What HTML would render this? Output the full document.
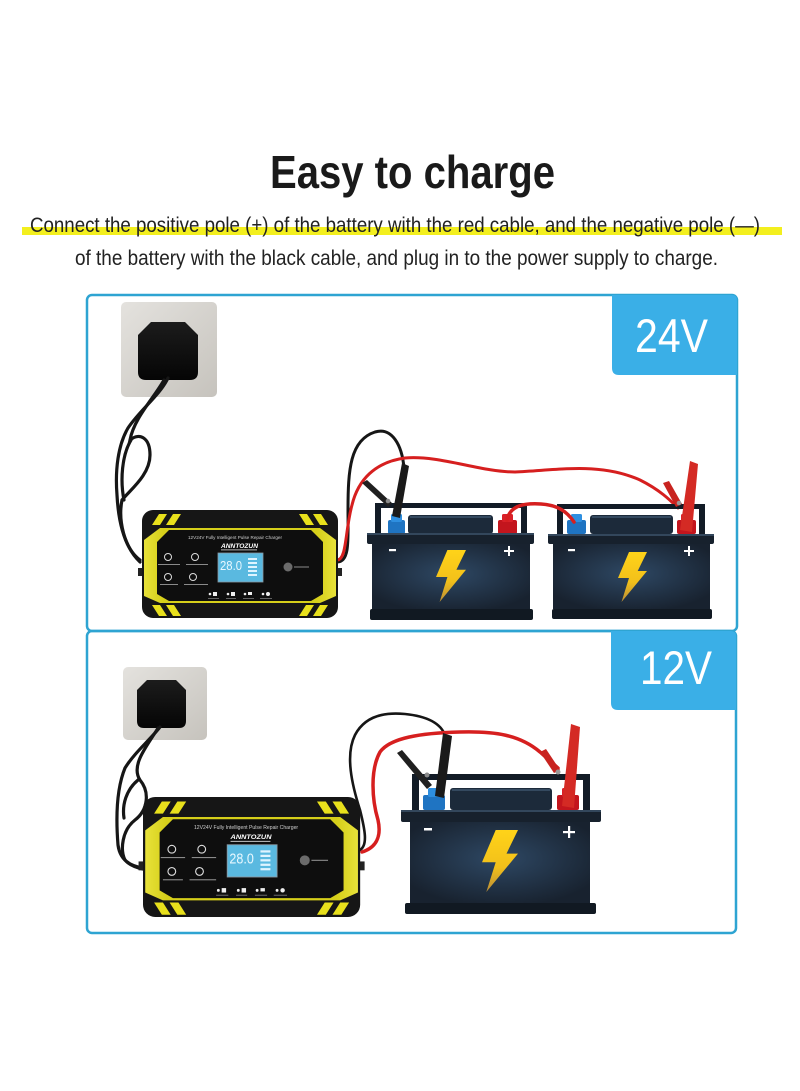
<!DOCTYPE html>
<html><head><meta charset="utf-8"><style>
html,body{margin:0;padding:0;background:#fff;}
svg{display:block;}
</style></head><body>
<svg width="800" height="1091" viewBox="0 0 800 1091" xmlns="http://www.w3.org/2000/svg" font-family="Liberation Sans, sans-serif">
<defs>
<radialGradient id="batg" cx="0.5" cy="0.45" r="0.6">
<stop offset="0" stop-color="#2e4864"/><stop offset="1" stop-color="#18222f"/>
</radialGradient>
<linearGradient id="bolt" x1="0" y1="0" x2="0" y2="1">
<stop offset="0" stop-color="#ffd319"/><stop offset="0.6" stop-color="#f2c01a"/><stop offset="1" stop-color="#b98d38"/>
</linearGradient>
<linearGradient id="plate" x1="0" y1="0" x2="1" y2="1">
<stop offset="0" stop-color="#e4e2de"/><stop offset="1" stop-color="#c6c3bd"/>
</linearGradient>
<linearGradient id="plug" x1="0" y1="0" x2="0" y2="1">
<stop offset="0" stop-color="#1c1c1c"/><stop offset="1" stop-color="#050505"/>
</linearGradient>
<linearGradient id="ylw" x1="0" y1="0" x2="1" y2="0">
<stop offset="0" stop-color="#e8e23a"/><stop offset="0.1" stop-color="#d6cf1a"/><stop offset="0.9" stop-color="#d6cf1a"/><stop offset="1" stop-color="#e8e23a"/>
</linearGradient>
</defs>

<!-- Title -->
<text x="270" y="188" font-size="46" font-weight="bold" fill="#1a1a1a" textLength="285" lengthAdjust="spacingAndGlyphs">Easy to charge</text>
<rect x="22" y="227" width="760" height="8" fill="#f3ef1e"/>
<text x="30" y="232" font-size="21" fill="#222" textLength="730" lengthAdjust="spacingAndGlyphs">Connect the positive pole (+) of the battery with the red cable, and the negative pole (—)</text>
<text x="75" y="265" font-size="21" fill="#222" textLength="643" lengthAdjust="spacingAndGlyphs">of the battery with the black cable, and plug in to the power supply to charge.</text>

<!-- Frames -->
<rect x="87" y="295" width="650" height="336" rx="5" fill="none" stroke="#2ea4d2" stroke-width="2.5"/>
<rect x="87" y="631" width="649" height="302" rx="5" fill="none" stroke="#2ea4d2" stroke-width="2.5"/>
<path d="M612,295 H732 Q737,295 737,300 V375 H619 Q612,375 612,368 Z" fill="#3aafe7"/>
<text x="635" y="352" font-size="47" fill="#fff" textLength="73" lengthAdjust="spacingAndGlyphs">24V</text>
<path d="M611,631 H731 Q736,631 736,636 V710 H618 Q611,710 611,703 Z" fill="#3aafe7"/>
<text x="640" y="684" font-size="47" fill="#fff" textLength="72" lengthAdjust="spacingAndGlyphs">12V</text>

<!-- ===== TOP SCENE ===== -->
<rect x="121" y="302" width="96" height="95" rx="5" fill="url(#plate)"/>
<path d="M151,322 H185 L198,335 V372 Q198,380 190,380 H146 Q138,380 138,372 V335 Z" fill="url(#plug)"/>
<g fill="none" stroke="#161616" stroke-width="3.2" stroke-linecap="round">
<path d="M168,378 C160,395 140,410 128,428 C118,445 115,470 117,495 C118,515 122,545 140,562"/>
<path d="M164,380 C154,398 134,418 130,440 C140,432 150,438 150,455 C150,475 130,490 122,500 C118,520 124,548 140,560"/>
<path d="M131,440 C122,455 120,480 124,500"/>
</g>

<g fill="none" stroke-linecap="round">
<path d="M337,562 C350,562 348,540 348,510 C348,470 350,440 375,432 C392,427 402,445 404,468" stroke="#161616" stroke-width="3"/>
<path d="M337,560 C347,560 345,530 352,505 C358,480 375,462 405,458 C440,455 480,472 515,472 C560,470 600,462 640,480 C660,490 670,500 678,508" stroke="#d61f1f" stroke-width="3"/>
</g>

<!-- battery 1 -->
<g>
<rect x="375" y="503" width="152" height="5" fill="#121b26"/>
<rect x="375" y="503" width="6" height="31" fill="#121b26"/>
<rect x="521" y="503" width="6" height="31" fill="#121b26"/>
<rect x="408" y="515" width="85" height="19" rx="3" fill="#1c2a3a"/>
<rect x="410" y="516" width="81" height="2" fill="#34495f"/>
<rect x="388" y="520" width="17" height="14" rx="2" fill="#1f74c2"/>
<rect x="391" y="514" width="11" height="8" rx="1.5" fill="#2e8fe0"/>
<rect x="498" y="520" width="19" height="14" rx="2" fill="#c3151d"/>
<rect x="502" y="514" width="11" height="8" rx="1.5" fill="#d92028"/>
<rect x="367" y="533" width="167" height="11" rx="2" fill="#17212d"/>
<rect x="367" y="533" width="167" height="2" fill="#33475c"/>
<rect x="372" y="544" width="158" height="66" fill="url(#batg)"/>
<rect x="370" y="609" width="163" height="11" rx="2" fill="#111922"/>
<rect x="389" y="549" width="7" height="2.2" fill="#fff"/>
<rect x="504" y="550" width="10" height="2" fill="#fff"/><rect x="508" y="546" width="2" height="10" fill="#fff"/>
<polygon points="447.4,550 466,550 456.4,569.8 466,569.8 439.6,602 447.4,577 436,577" fill="url(#bolt)"/>
</g>

<!-- battery 2 -->
<g>
<rect x="557" y="504" width="148" height="5" fill="#121b26"/>
<rect x="557" y="504" width="6" height="30" fill="#121b26"/>
<rect x="699" y="504" width="6" height="30" fill="#121b26"/>
<rect x="590" y="515" width="83" height="19" rx="3" fill="#1c2a3a"/>
<rect x="592" y="516" width="79" height="2" fill="#34495f"/>
<rect x="567" y="520" width="19" height="14" rx="2" fill="#1f74c2"/>
<rect x="571" y="514" width="11" height="8" rx="1.5" fill="#2e8fe0"/>
<rect x="677" y="520" width="19" height="14" rx="2" fill="#c3151d"/>
<rect x="681" y="514" width="11" height="8" rx="1.5" fill="#d92028"/>
<rect x="548" y="534" width="166" height="10" rx="2" fill="#17212d"/>
<rect x="548" y="534" width="166" height="2" fill="#33475c"/>
<rect x="553" y="544" width="157" height="65" fill="url(#batg)"/>
<rect x="552" y="609" width="160" height="10" rx="2" fill="#111922"/>
<rect x="568" y="549" width="7" height="2.2" fill="#fff"/>
<rect x="684" y="550" width="10" height="2" fill="#fff"/><rect x="688" y="546" width="2" height="10" fill="#fff"/>
<polygon points="629,552 647,552 637.7,571 647,571 621.5,602 629,578 618,578" fill="url(#bolt)"/>
</g>

<path d="M507,520 C510,505 525,503 541,504 C556,505 566,510 574,522" fill="none" stroke="#d61f1f" stroke-width="3.5" stroke-linecap="round"/>

<!-- clips top -->
<path d="M402,463 L409,466 L400,518 L392,516 Z" fill="#1a1a1a"/>
<path d="M362,483 L367,480 L392,503 L388,507 Z" fill="#202020"/>
<circle cx="388" cy="501" r="2.3" fill="#8a8a8a"/>
<path d="M690,461 L698,464 L692,532 L680,530 Z" fill="#d42a24"/>
<path d="M663,483 L669,481 L682,504 L676,507 Z" fill="#c8231f"/>
<circle cx="679" cy="503" r="2.3" fill="#999"/>

<!-- charger top -->
<g transform="translate(142,510)">
<rect x="-4" y="58" width="6" height="8" fill="#222"/><rect x="194" y="58" width="6" height="8" fill="#222"/>
<rect x="0" y="0" width="196" height="108" rx="11" fill="#161616"/>
<path d="M2,30 L18,18 L178,18 L194,30 L194,86 L178,93 L18,93 L2,86 Z" fill="url(#ylw)"/>
<path d="M15,32 L27,20 L169,20 L181,32 L181,84 L169,91 L27,91 L15,84 Z" fill="#0e0e0e"/>
<g fill="#e8e01c">
<polygon points="10,15 17,4 25,4 18,15"/><polygon points="24,15 31,4 39,4 32,15"/>
<polygon points="157,4 165,4 172,15 164,15"/><polygon points="171,4 179,4 186,15 178,15"/>
<polygon points="10,95 18,95 25,106 17,106"/><polygon points="24,95 32,95 39,106 31,106"/>
<polygon points="164,95 172,95 165,106 157,106"/><polygon points="178,95 186,95 179,106 171,106"/>
</g>
<text x="46" y="29" font-size="4.6" fill="#cfcfcf" textLength="94" lengthAdjust="spacingAndGlyphs">12V24V  Fully Intelligent Pulse Repair Charger</text>
<text x="79" y="38" font-size="6" font-weight="bold" font-style="italic" fill="#fff" textLength="37" lengthAdjust="spacingAndGlyphs">ANNTOZUN</text>
<rect x="79" y="39.5" width="36" height="0.8" fill="#ddd"/>
<rect x="76" y="43" width="45" height="29" fill="#5ab9e0" stroke="#8a9aa4" stroke-width="0.8"/>
<text x="78" y="60" font-size="13" fill="#e8f8ff" textLength="22" lengthAdjust="spacingAndGlyphs">28.0</text>
<g fill="#dff4ff"><rect x="106" y="48" width="9" height="2"/><rect x="106" y="52" width="9" height="2"/><rect x="106" y="56" width="9" height="2"/><rect x="106" y="60" width="9" height="2"/><rect x="106" y="64" width="9" height="2"/></g>
<g fill="none" stroke="#dcdcdc" stroke-width="1"><circle cx="26" cy="47" r="3.5"/><circle cx="53" cy="47" r="3.5"/><circle cx="26" cy="67" r="3.5"/><circle cx="51" cy="67" r="3.5"/></g>
<g fill="#8a8a8a"><rect x="16" y="54" width="22" height="1"/><rect x="44" y="54" width="22" height="1"/><rect x="18" y="74" width="18" height="1"/><rect x="42" y="74" width="24" height="1"/><rect x="152" y="56.5" width="15" height="1"/></g>
<circle cx="146" cy="57" r="4.5" fill="#6b6b6b"/>
<g fill="#eee"><circle cx="68" cy="84" r="1.3"/><circle cx="86" cy="84" r="1.3"/><circle cx="103" cy="84" r="1.3"/><circle cx="121" cy="84" r="1.3"/>
<rect x="71" y="82" width="4" height="4"/><rect x="89" y="82" width="4" height="4"/><rect x="106" y="82" width="4" height="3"/><circle cx="126" cy="84" r="2"/></g>
<g fill="#777"><rect x="66" y="88" width="11" height="0.8"/><rect x="84" y="88" width="10" height="0.8"/><rect x="101" y="88" width="11" height="0.8"/><rect x="118" y="88" width="12" height="0.8"/></g>
</g>

<!-- ===== BOTTOM SCENE ===== -->
<rect x="123" y="667" width="84" height="73" rx="5" fill="url(#plate)"/>
<path d="M147,680 H176 L186,690 V721 Q186,728 179,728 H144 Q137,728 137,721 V690 Z" fill="url(#plug)"/>
<g fill="none" stroke="#161616" stroke-width="3.2" stroke-linecap="round">
<path d="M160,727 C150,740 135,752 125,768 C116,790 116,820 118,845 C120,860 130,866 143,868"/>
<path d="M158,728 C148,745 130,765 140,780 C150,792 148,810 135,820 C122,830 120,850 125,860 C130,866 138,868 143,869"/>
<path d="M138,780 C126,790 122,805 124,818"/>
</g>

<g fill="none" stroke-linecap="round">
<path d="M360,850 C368,845 365,830 360,810 C352,785 345,755 355,735 C365,716 385,712 405,714 C425,716 440,722 445,735" stroke="#161616" stroke-width="2.6"/>
<path d="M362,852 C375,848 382,838 378,820 C372,800 370,770 380,752 C390,738 420,733 460,732 C495,731 520,735 540,752 L558,768" stroke="#d61f1f" stroke-width="3.5"/>
</g>

<!-- battery 3 -->
<g>
<rect x="412" y="774" width="178" height="6" fill="#121b26"/>
<rect x="412" y="774" width="7" height="37" fill="#121b26"/>
<rect x="583" y="774" width="7" height="37" fill="#121b26"/>
<rect x="450" y="788" width="102" height="22" rx="3" fill="#1c2a3a"/>
<rect x="452" y="789" width="98" height="2" fill="#34495f"/>
<rect x="423" y="795" width="22" height="15" rx="2" fill="#1f74c2"/>
<rect x="428" y="788" width="12" height="9" rx="1.5" fill="#2e8fe0"/>
<rect x="557" y="795" width="22" height="15" rx="2" fill="#c3151d"/>
<rect x="562" y="788" width="12" height="9" rx="1.5" fill="#d92028"/>
<rect x="401" y="810" width="200" height="12" rx="2" fill="#17212d"/>
<rect x="401" y="810" width="200" height="2" fill="#33475c"/>
<rect x="410" y="822" width="180" height="81" fill="url(#batg)"/>
<rect x="405" y="903" width="191" height="11" rx="2" fill="#111922"/>
<rect x="424" y="828" width="8" height="2.5" fill="#fff"/>
<rect x="563" y="831" width="12" height="2.2" fill="#fff"/><rect x="568" y="826" width="2.2" height="12" fill="#fff"/>
<polygon points="495.7,830 518,830 506.5,853.6 518,853.6 486.3,892 495.7,862.2 482,862.2" fill="url(#bolt)"/>
</g>

<!-- clips bottom -->
<path d="M443,733 L452,736 L444,798 L435,796 Z" fill="#1a1a1a"/>
<path d="M397,753 L402,750 L432,785 L427,789 Z" fill="#202020"/>
<circle cx="427" cy="775" r="2.5" fill="#8a8a8a"/>
<path d="M571,724 L580,727 L574,808 L562,806 Z" fill="#d42a24"/>
<path d="M540,752 L546,749 L560,770 L554,773 Z" fill="#c8231f"/>
<circle cx="558" cy="772" r="2.5" fill="#999"/>

<!-- charger bottom -->
<g transform="translate(143,797) scale(1.108,1.111)">
<rect x="-4" y="58" width="6" height="8" fill="#222"/><rect x="194" y="58" width="6" height="8" fill="#222"/>
<rect x="0" y="0" width="196" height="108" rx="11" fill="#161616"/>
<path d="M2,30 L18,18 L178,18 L194,30 L194,86 L178,93 L18,93 L2,86 Z" fill="url(#ylw)"/>
<path d="M15,32 L27,20 L169,20 L181,32 L181,84 L169,91 L27,91 L15,84 Z" fill="#0e0e0e"/>
<g fill="#e8e01c">
<polygon points="10,15 17,4 25,4 18,15"/><polygon points="24,15 31,4 39,4 32,15"/>
<polygon points="157,4 165,4 172,15 164,15"/><polygon points="171,4 179,4 186,15 178,15"/>
<polygon points="10,95 18,95 25,106 17,106"/><polygon points="24,95 32,95 39,106 31,106"/>
<polygon points="164,95 172,95 165,106 157,106"/><polygon points="178,95 186,95 179,106 171,106"/>
</g>
<text x="46" y="29" font-size="4.6" fill="#cfcfcf" textLength="94" lengthAdjust="spacingAndGlyphs">12V24V  Fully Intelligent Pulse Repair Charger</text>
<text x="79" y="38" font-size="6" font-weight="bold" font-style="italic" fill="#fff" textLength="37" lengthAdjust="spacingAndGlyphs">ANNTOZUN</text>
<rect x="79" y="39.5" width="36" height="0.8" fill="#ddd"/>
<rect x="76" y="43" width="45" height="29" fill="#5ab9e0" stroke="#8a9aa4" stroke-width="0.8"/>
<text x="78" y="60" font-size="13" fill="#e8f8ff" textLength="22" lengthAdjust="spacingAndGlyphs">28.0</text>
<g fill="#dff4ff"><rect x="106" y="48" width="9" height="2"/><rect x="106" y="52" width="9" height="2"/><rect x="106" y="56" width="9" height="2"/><rect x="106" y="60" width="9" height="2"/><rect x="106" y="64" width="9" height="2"/></g>
<g fill="none" stroke="#dcdcdc" stroke-width="1"><circle cx="26" cy="47" r="3.5"/><circle cx="53" cy="47" r="3.5"/><circle cx="26" cy="67" r="3.5"/><circle cx="51" cy="67" r="3.5"/></g>
<g fill="#8a8a8a"><rect x="16" y="54" width="22" height="1"/><rect x="44" y="54" width="22" height="1"/><rect x="18" y="74" width="18" height="1"/><rect x="42" y="74" width="24" height="1"/><rect x="152" y="56.5" width="15" height="1"/></g>
<circle cx="146" cy="57" r="4.5" fill="#6b6b6b"/>
<g fill="#eee"><circle cx="68" cy="84" r="1.3"/><circle cx="86" cy="84" r="1.3"/><circle cx="103" cy="84" r="1.3"/><circle cx="121" cy="84" r="1.3"/>
<rect x="71" y="82" width="4" height="4"/><rect x="89" y="82" width="4" height="4"/><rect x="106" y="82" width="4" height="3"/><circle cx="126" cy="84" r="2"/></g>
<g fill="#777"><rect x="66" y="88" width="11" height="0.8"/><rect x="84" y="88" width="10" height="0.8"/><rect x="101" y="88" width="11" height="0.8"/><rect x="118" y="88" width="12" height="0.8"/></g>
</g>
</svg>
</body></html>
